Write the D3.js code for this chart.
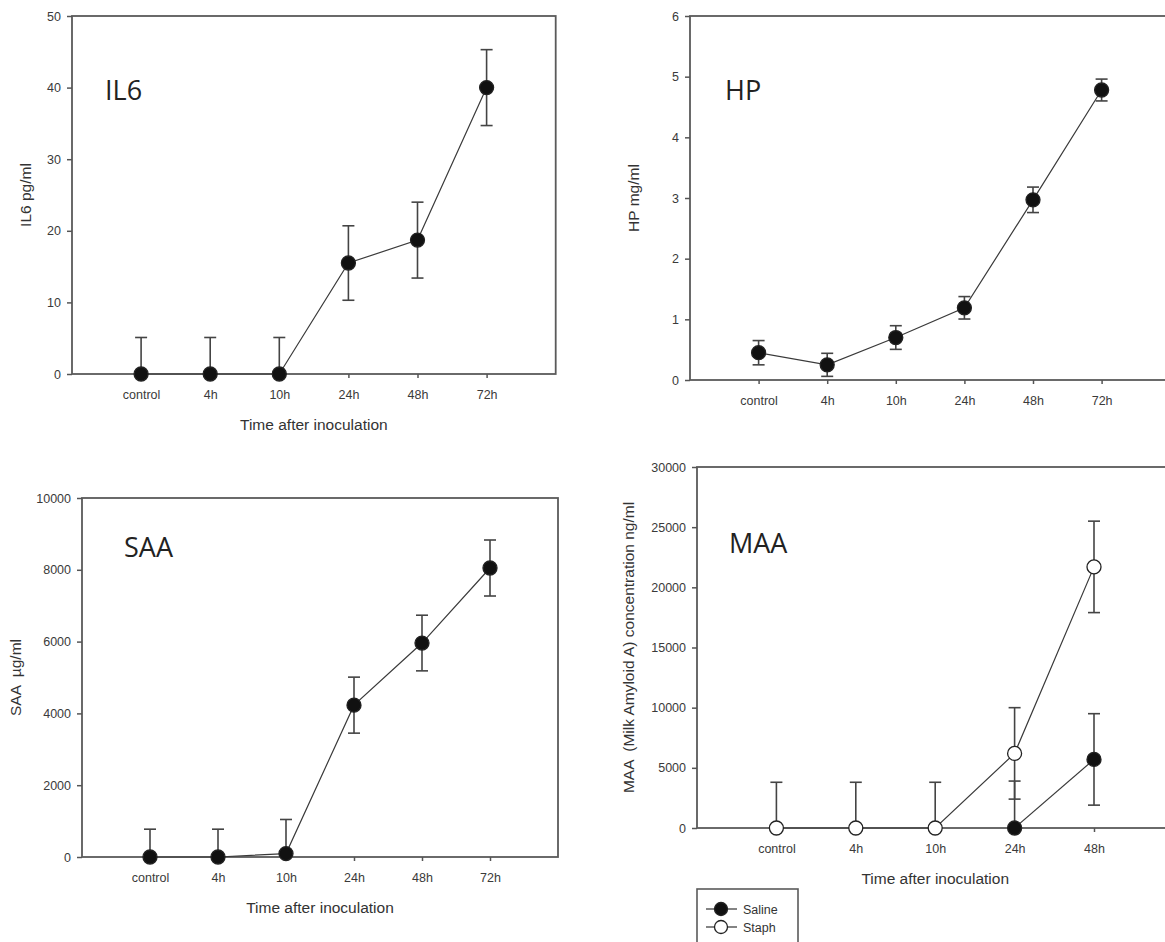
<!DOCTYPE html>
<html>
<head>
<meta charset="utf-8">
<title>Acute phase proteins</title>
<style>
  body { margin: 0; background: #fff; }
  .tick text { font-family: "Liberation Sans", Arial, sans-serif; font-size: 12.5px; fill: #3a3a3a; }
  .tick line { stroke: #555; stroke-width: 1.5; }
  .atitle { font-family: "Liberation Sans", Arial, sans-serif; font-size: 15.5px; fill: #333; }
  .ptitle { font-family: "Open Sans", sans-serif; font-size: 27px; fill: #222; }
</style>
</head>
<body>
<script src="https://d3js.org/d3.v7.min.js"></script>
<script>
var w = 1165;
var h = 942;

// data
var timeLabels = ["control", "4h", "10h", "24h", "48h", "72h"];
var il6Mean = [0, 0, 0, 15.5, 18.7, 40.0];
var il6Err  = [5.1, 5.1, 5.1, 5.2, 5.3, 5.3];
var hpMean  = [0.45, 0.25, 0.70, 1.19, 2.97, 4.78];
var hpErr   = [0.20, 0.19, 0.195, 0.185, 0.21, 0.18];
var saaMean = [0, 0, 95, 4230, 5960, 8050];
var saaErr  = [775, 775, 950, 780, 775, 780];

var maaLabels = ["control", "4h", "10h", "24h", "48h"];
var maaStaphMean  = [0, 0, 0, 6200, 21700];
var maaStaphErr   = [3800, 3800, 3800, 3800, 3800];
var maaSalineMean = [null, null, null, 0, 5700];
var maaSalineErr  = [null, null, null, 3900, 3800];

var il6Ticks = [0, 10, 20, 30, 40, 50];
var hpTicks  = [0, 1, 2, 3, 4, 5, 6];
var saaTicks = [0, 2000, 4000, 6000, 8000, 10000];
var maaTicks = [0, 5000, 10000, 15000, 20000, 25000, 30000];

var svg = d3.select('body')
            .append('svg')
            .attr('width', w)
            .attr('height', h);

function panel(p) {
  var n = p.labels.length;
  var x = d3.scaleLinear().domain([0, n + 1]).range([p.left, p.left + (n + 1) * p.step]);
  var y = d3.scaleLinear().domain([0, p.ticks[p.ticks.length - 1]]).range([p.bottom, p.top]);
  var g = svg.append('g');

  // frame
  g.append('rect')
    .attr('x', x.range()[0]).attr('y', p.top)
    .attr('width', x.range()[1] - x.range()[0]).attr('height', p.bottom - p.top)
    .attr('fill', 'none').attr('stroke', '#5a5a5a').attr('stroke-width', 1.8);

  var ya = g.append('g')
    .attr('transform', 'translate(' + p.left + ',0)')
    .call(d3.axisLeft(y).tickValues(p.ticks).tickFormat(d => String(d)).tickSize(5).tickPadding(6));
  ya.select('.domain').remove();

  var xa = g.append('g')
    .attr('transform', 'translate(0,' + p.bottom + ')')
    .call(d3.axisBottom(x).tickValues(d3.range(1, n + 1))
      .tickFormat(function(d) { return p.labels[d - 1]; })
      .tickSize(4).tickPadding(12));
  xa.select('.domain').remove();

  g.append('text').attr('class', 'atitle')
    .attr('transform', 'translate(' + p.yLabelX + ',' + ((p.top + p.bottom) / 2) + ') rotate(-90)')
    .attr('text-anchor', 'middle')
    .style('white-space', 'pre')
    .text(p.yLabel);

  if (p.xLabel) {
    g.append('text').attr('class', 'atitle')
      .attr('x', (x.range()[0] + x.range()[1]) / 2)
      .attr('y', p.bottom + 56)
      .attr('text-anchor', 'middle')
      .text(p.xLabel);
  }

  g.append('text').attr('class', 'ptitle')
    .attr('x', p.titleX).attr('y', p.titleY)
    .text(p.title);

  p.series.forEach(function(s) {
    var pts = s.mean.map(function(m, i) { return { i: i + 1, m: m, e: s.err[i] }; })
                    .filter(function(d) { return d.m !== null; });

    // error bars
    var eb = g.append('g').selectAll('g').data(pts).enter().append('g');
    eb.append('line')
      .attr('x1', d => x(d.i)).attr('x2', d => x(d.i))
      .attr('y1', d => y(Math.max(0, d.m - d.e))).attr('y2', d => y(d.m + d.e))
      .attr('stroke', '#444').attr('stroke-width', 1.6);
    eb.append('line')
      .attr('x1', d => x(d.i) - 6).attr('x2', d => x(d.i) + 6)
      .attr('y1', d => y(d.m + d.e)).attr('y2', d => y(d.m + d.e))
      .attr('stroke', '#444').attr('stroke-width', 1.6);
    eb.filter(d => d.m - d.e > 0).append('line')
      .attr('x1', d => x(d.i) - 6).attr('x2', d => x(d.i) + 6)
      .attr('y1', d => y(d.m - d.e)).attr('y2', d => y(d.m - d.e))
      .attr('stroke', '#444').attr('stroke-width', 1.6);

    g.append('path')
      .datum(pts)
      .attr('d', d3.line().x(d => x(d.i)).y(d => y(d.m)))
      .attr('fill', 'none').attr('stroke', '#3a3a3a').attr('stroke-width', 1.2);

    g.append('g').selectAll('circle').data(pts).enter().append('circle')
      .attr('cx', d => x(d.i)).attr('cy', d => y(d.m)).attr('r', 7)
      .attr('fill', s.open ? '#fff' : '#111')
      .attr('stroke', '#222').attr('stroke-width', 1.3);
  });
}

panel({ labels: timeLabels, ticks: il6Ticks, left: 72, step: 69.1, top: 16, bottom: 374,
        yLabel: 'IL6 pg/ml', yLabelX: 31, xLabel: 'Time after inoculation',
        title: 'IL6', titleX: 105, titleY: 100,
        series: [{ mean: il6Mean, err: il6Err, open: false }] });

panel({ labels: timeLabels, ticks: hpTicks, left: 690, step: 68.6, top: 16, bottom: 380,
        yLabel: 'HP mg/ml', yLabelX: 639, xLabel: null,
        title: 'HP', titleX: 725, titleY: 100,
        series: [{ mean: hpMean, err: hpErr, open: false }] });

panel({ labels: timeLabels, ticks: saaTicks, left: 82, step: 68, top: 498, bottom: 857,
        yLabel: 'SAA  \u00b5g/ml', yLabelX: 21, xLabel: 'Time after inoculation',
        title: 'SAA', titleX: 124, titleY: 557,
        series: [{ mean: saaMean, err: saaErr, open: false }] });

panel({ labels: maaLabels, ticks: maaTicks, left: 697, step: 79.4, top: 467, bottom: 828,
        yLabel: 'MAA  (Milk Amyloid A) concentration ng/ml', yLabelX: 634, xLabel: 'Time after inoculation',
        title: 'MAA', titleX: 729, titleY: 553,
        series: [{ mean: maaSalineMean, err: maaSalineErr, open: false },
                 { mean: maaStaphMean, err: maaStaphErr, open: true }] });

// legend
var legendItems = [{ name: 'Saline', open: false }, { name: 'Staph', open: true }];
var lg = svg.append('g');
lg.append('rect').attr('x', 697).attr('y', 889).attr('width', 101).attr('height', 60)
  .attr('fill', '#fff').attr('stroke', '#5a5a5a').attr('stroke-width', 1.6);
var li = lg.selectAll('g.item').data(legendItems).enter().append('g')
  .attr('transform', (d, i) => 'translate(0,' + (909 + i * 18) + ')');
li.append('line').attr('x1', 706).attr('x2', 737).attr('y1', 0).attr('y2', 0)
  .attr('stroke', '#333').attr('stroke-width', 1.2);
li.append('circle').attr('cx', 721).attr('cy', 0).attr('r', 6.5)
  .attr('fill', d => d.open ? '#fff' : '#111').attr('stroke', '#222').attr('stroke-width', 1.3);
li.append('text').attr('x', 743).attr('y', 4.5)
  .style('font-family', '"Liberation Sans", Arial, sans-serif').style('font-size', '12.5px').style('fill', '#333')
  .text(d => d.name);
</script>
</body>
</html>
